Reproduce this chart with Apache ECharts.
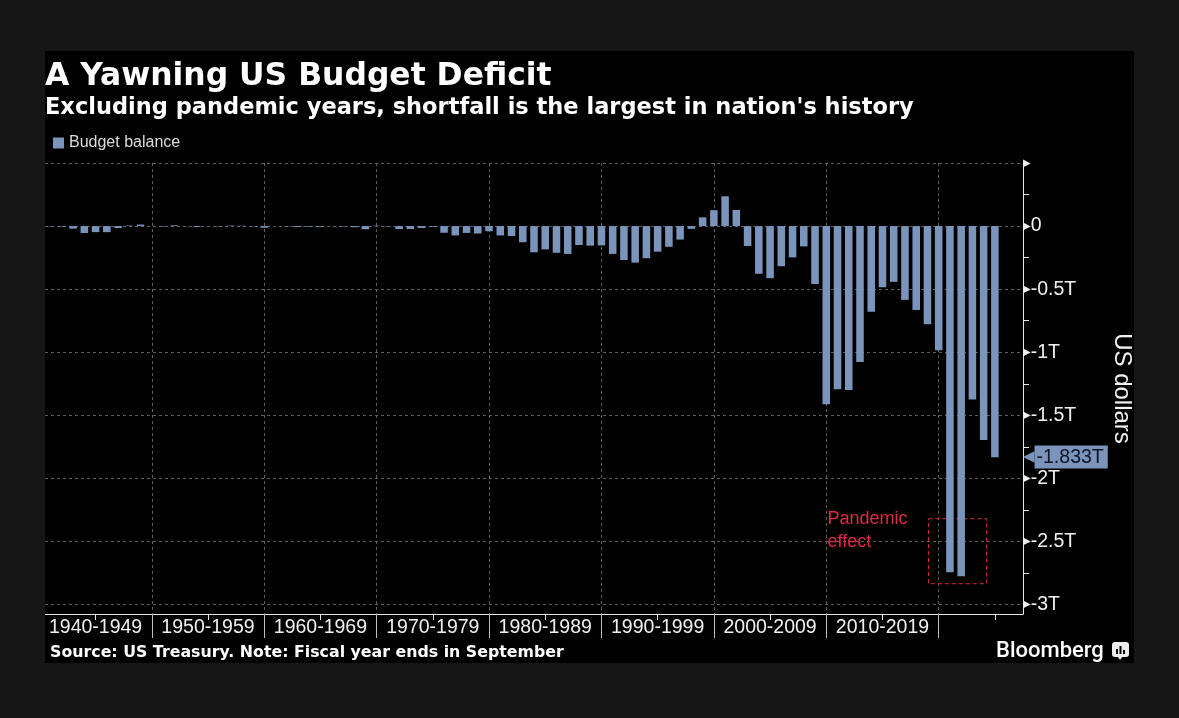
<!DOCTYPE html>
<html>
<head>
<meta charset="utf-8">
<title>A Yawning US Budget Deficit</title>
<script src="https://cdn.jsdelivr.net/npm/echarts@6.0.0/dist/echarts.min.js"></script>
<style>
  html, body { margin: 0; padding: 0; background: #161616; }
  #panel { position: absolute; left: 45px; top: 51px; width: 1089px; height: 612px; background: #000; }
</style>
</head>
<body>
<div id="panel"></div>
<script>
// fiscal years on the axis, 2025-2026 are just empty room on the right
const years = [];
for (let y = 1940; y <= 2026; y++) years.push(String(y));

// budget balance, trillions of US dollars, FY1940 ... FY2024
const balance = [
  -0.003, -0.005, -0.020, -0.055, -0.048, -0.048, -0.016, 0.004, 0.012, 0.001,
  -0.003, 0.006, -0.002, -0.007, -0.001, -0.003, 0.004, 0.003, -0.003, -0.013,
  0.000, -0.003, -0.007, -0.005, -0.006, -0.001, -0.004, -0.009, -0.025, 0.003,
  -0.003, -0.023, -0.023, -0.015, -0.006, -0.053, -0.074, -0.054, -0.059, -0.041,
  -0.074, -0.079, -0.128, -0.208, -0.185, -0.212, -0.221, -0.150, -0.155, -0.153,
  -0.221, -0.269, -0.290, -0.255, -0.203, -0.164, -0.107, -0.022, 0.069, 0.126,
  0.236, 0.128, -0.158, -0.378, -0.413, -0.318, -0.248, -0.161, -0.459, -1.413,
  -1.294, -1.300, -1.077, -0.680, -0.485, -0.442, -0.585, -0.665, -0.779, -0.984,
  -2.745, -2.775, -1.375, -1.695, -1.833
];

const decadeLabels = [
  '1940-1949', '1950-1959', '1960-1969', '1970-1979',
  '1980-1989', '1990-1999', '2000-2009', '2010-2019'
];

// dashed box round the pandemic years: first year, last year, top, bottom
const pandemicBox = ['2018', '2023', -2.32, -2.835];

const BLUE = '#7b94bc';
const RED = '#dc2a45';
const GRID = '#5e5e5e';
const TEXT = '#f0f0f0';
const SANS = "'Liberation Sans', Arial, sans-serif";
const HEAD = "'DejaVu Sans', Verdana, sans-serif";

const lastValue = balance[balance.length - 1];

function yearLabel(v) {
  const start = String(+v - 4);
  return decadeLabels.find(l => l.indexOf(start) === 0) || '';
}

function drawBox(params, api) {
  const a = api.coord([api.value(0), api.value(2)]);
  const b = api.coord([api.value(1), api.value(3)]);
  return {
    type: 'group',
    children: [
      {
        type: 'rect',
        shape: { x: a[0] + 1, y: a[1], width: b[0] - a[0] + 2, height: b[1] - a[1] },
        style: { fill: 'none', stroke: RED, lineWidth: 1, lineDash: [4, 3] }
      },
      {
        type: 'text', x: a[0] - 100, y: a[1] - 11,
        style: {
          text: 'Pandemic\neffect', fill: RED, fontFamily: 'Liberation Sans', fontSize: 18,
          lineHeight: 23, align: 'left', verticalAlign: 'top'
        }
      }
    ]
  };
}

const chart = echarts.init(document.getElementById('panel'));
chart.setOption({
  backgroundColor: '#000',
  animation: false,
  title: [
    {
      text: 'A Yawning US Budget Deficit', left: 0, top: 10, padding: 0,
      textStyle: { color: '#fff', fontFamily: HEAD, fontWeight: 'bold', fontSize: 31.4 }
    },
    {
      text: "Excluding pandemic years, shortfall is the largest in nation's history", left: 0, top: 46, padding: 0,
      textStyle: { color: '#fff', fontFamily: HEAD, fontWeight: 'bold', fontSize: 22.5 }
    },
    {
      text: 'Source: US Treasury. Note: Fiscal year ends in September', left: 5, top: 594, padding: 0,
      textStyle: { color: '#fff', fontFamily: HEAD, fontWeight: 'bold', fontSize: 15.8 }
    },
    {
      text: 'Bloomberg', left: 951, top: 589, padding: 0,
      textStyle: { color: '#fff', fontFamily: 'Roboto, sans-serif', fontWeight: 500, fontSize: 22 }
    }
  ],
  legend: {
    data: ['Budget balance'],
    left: 8, top: 84, padding: 0, icon: 'rect', itemWidth: 11, itemHeight: 11,
    textStyle: { color: '#dcdcdc', fontFamily: SANS, fontSize: 16 }
  },
  grid: { left: 0, right: 111, top: 112, bottom: 49, containLabel: false, outerBoundsMode: 'none' },
  xAxis: [
    {
      type: 'category', data: years, boundaryGap: true,
      axisLine: { onZero: false, lineStyle: { color: '#e6e6e6' } },
      axisTick: {
        show: true, alignWithLabel: true, length: 6, interval: i => i % 10 === 4,
        lineStyle: { color: '#e6e6e6' }
      },
      axisLabel: {
        interval: i => i % 10 === 4 && i < 80, formatter: yearLabel, margin: 4,
        color: TEXT, fontFamily: SANS, fontSize: 19.5
      },
      splitLine: {
        show: true, alignWithLabel: true, interval: i => i % 10 === 9 && i < 80,
        lineStyle: { color: GRID, type: [3, 3] }
      }
    },
    {
      type: 'category', data: years, boundaryGap: true, position: 'bottom',
      axisLine: { show: false, onZero: false },
      axisTick: {
        show: true, alignWithLabel: true, length: 24, interval: i => i % 10 === 9 && i < 80,
        lineStyle: { color: '#bdbdbd' }
      },
      axisLabel: { show: false },
      splitLine: { show: false }
    }
  ],
  yAxis: {
    type: 'value', position: 'right', min: -3.075, max: 0.5, splitNumber: 7,
    name: 'US dollars', nameLocation: 'middle', nameRotate: -90, nameGap: 87,
    nameTextStyle: { color: TEXT, fontFamily: SANS, fontSize: 24 },
    axisLine: { show: true, lineStyle: { color: '#e6e6e6' } },
    axisTick: { show: false },
    minorTick: { show: true, splitNumber: 2, length: 6, lineStyle: { color: '#e6e6e6' } },
    axisLabel: {
      margin: 0, color: TEXT, fontFamily: SANS, fontSize: 19.5,
      formatter: function (v) {
        if (v < -3.01) return '';
        if (v > 0.01) return '{tri|\u25B6}';
        return '{tri|\u25B6}' + (v === 0 ? '0' : v + 'T');
      },
      rich: { tri: { fontFamily: HEAD, fontSize: 10, color: '#f0f0f0' } }
    },
    splitLine: { lineStyle: { color: GRID, type: [3, 3] } }
  },
  series: [
    {
      name: 'Budget balance', type: 'bar', data: balance, barCategoryGap: '33%', clip: false,
      itemStyle: { color: BLUE },
      markLine: {
        silent: true, symbol: 'none', animation: false,
        lineStyle: { color: 'rgba(0,0,0,0)', width: 0, opacity: 1 },
        label: {
          show: true, opacity: 1, position: 'end', distance: 0,
          formatter: () => '{arr|\u25C0}{val|' + lastValue.toFixed(3) + 'T}',
          rich: {
            arr: { fontFamily: HEAD, fontSize: 15, color: BLUE },
            val: { backgroundColor: BLUE, color: '#0c1426', fontFamily: SANS, fontSize: 19.5, padding: [2, 4, 1, 2] }
          }
        },
        data: [{ yAxis: lastValue }]
      }
    },
    {
      name: 'Pandemic effect', type: 'custom', clip: false, silent: true,
      renderItem: drawBox,
      encode: { x: [0, 1], y: [2, 3] },
      data: [pandemicBox]
    }
  ],
  graphic: [{
    type: 'group', left: 1067, top: 591,
    children: [
      { type: 'rect', shape: { x: 0, y: 0, width: 17, height: 15, r: 3 }, style: { fill: '#ececec' } },
      { type: 'polygon', shape: { points: [[5, 14], [11, 14], [8, 18]] }, style: { fill: '#ececec' } },
      { type: 'rect', shape: { x: 4, y: 7, width: 2, height: 5 }, style: { fill: '#000' } },
      { type: 'rect', shape: { x: 7.5, y: 4, width: 2, height: 8 }, style: { fill: '#000' } },
      { type: 'rect', shape: { x: 11, y: 8, width: 2, height: 4 }, style: { fill: '#000' } }
    ]
  }]
});
</script>
</body>
</html>
